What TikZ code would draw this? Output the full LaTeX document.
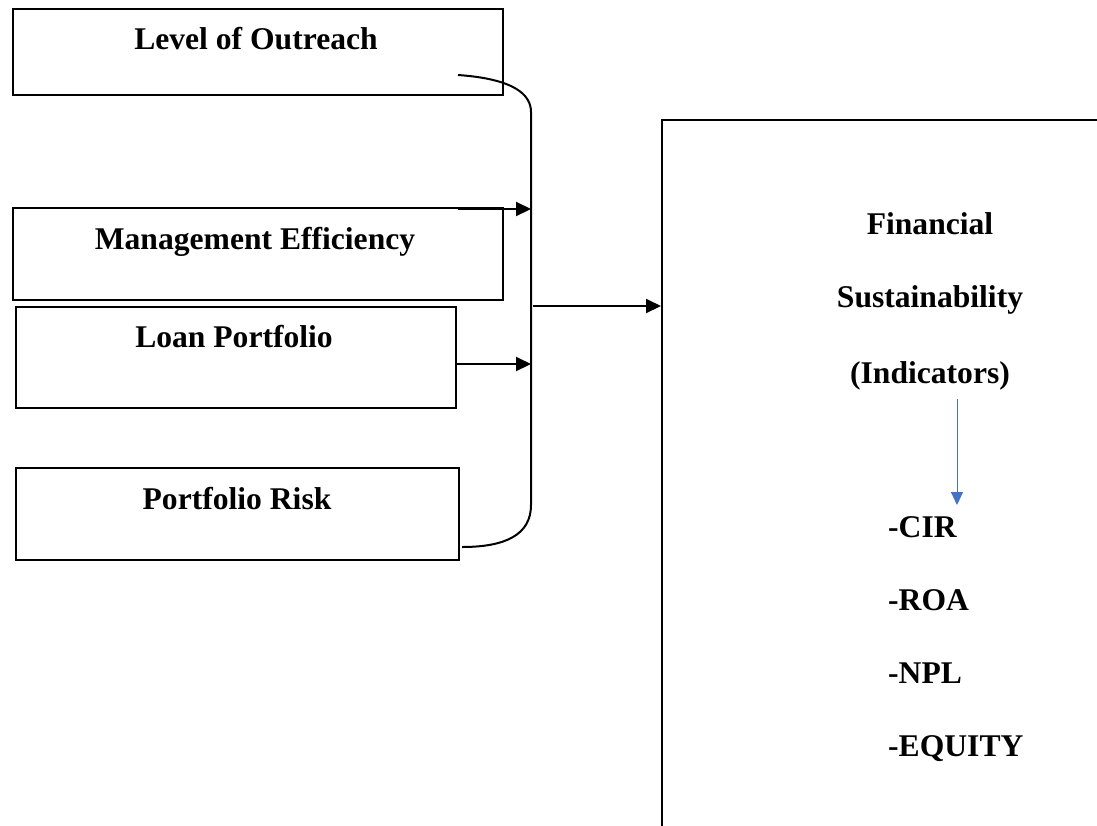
\documentclass[tikz,border=0pt]{standalone}
\usepackage{fontspec}
\setmainfont{Liberation Serif}
\usetikzlibrary{arrows.meta}
\definecolor{accentblue}{RGB}{68,114,196}
\begin{document}
\begin{tikzpicture}[x=1pt,y=-1pt,
  box/.style={draw, line width=1.6pt, inner sep=0pt, anchor=north west},
  lbl/.style={font=\fontsize{31.6}{38}\selectfont\bfseries, inner sep=0pt, anchor=base},
  lblw/.style={lbl, anchor=base west},
  conn/.style={line width=2pt},
  arr/.style={conn, -{Triangle[length=15pt,width=14pt]}},
  bluearr/.style={draw=accentblue, line width=1pt, -{Triangle[length=13pt,width=12pt]}, fill=accentblue}]
\useasboundingbox (0,0) rectangle (1097,825);
\clip (0,0) rectangle (1097,825);
% left boxes
\node[box, minimum width=490pt, minimum height=86pt] (b1) at (12,8) {};
\node[box, minimum width=490pt, minimum height=92pt] (b2) at (12,207) {};
\node[box, minimum width=440pt, minimum height=101pt] (b3) at (15,306) {};
\node[box, minimum width=443pt, minimum height=92pt] (b4) at (15,467) {};
% right box (open to the right and bottom)
\node[box, minimum width=520pt, minimum height=760pt] (fs) at (661,119) {};
% labels
\node[lbl] (t1) at (256,49) {Level of Outreach};
\node[lbl] (t2) at (255,249) {Management Efficiency};
\node[lbl] (t3) at (234,347) {Loan Portfolio};
\node[lbl] (t4) at (237,509) {Portfolio Risk};
\node[lbl] (f1) at (930,234) {Financial};
\node[lbl] (f2) at (930,307) {Sustainability};
\node[lbl] (f3) at (930,383) {(Indicators)};
\node[lblw] (i1) at (888,537) {-CIR};
\node[lblw] (i2) at (888,610) {-ROA};
\node[lblw] (i3) at (888,683) {-NPL};
\node[lblw] (i4) at (888,756) {-EQUITY};
% bracket
\coordinate (s1) at (458,75);
\coordinate (s4) at (462,547);
\coordinate (vt) at (531,112);
\coordinate (vb) at (531,505);
\draw[conn] (s1) .. controls (515,79) and (531,95) .. (vt) -- (vb)
  .. controls (531,535) and (505,547) .. (s4);
% arrows into bracket
\coordinate (s2) at (458,209);
\coordinate (s3) at (457,364);
\draw[arr] (s2) -- (s2 -| vt);
\draw[arr] (s3) -- (s3 -| vt);
% arrow to right box
\coordinate (j) at (533,306);
\draw[arr] (j) -- (j -| fs.west);
% blue arrow
\coordinate (ba) at (957,399);
\coordinate (bb) at (957,505);
\draw[bluearr] (ba) -- (bb);
\end{tikzpicture}
\end{document}
